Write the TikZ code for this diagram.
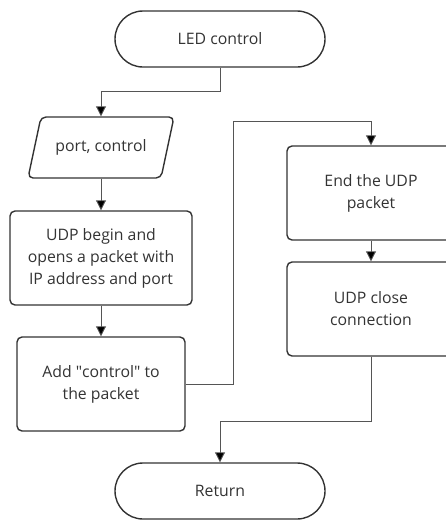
\documentclass[tikz,border=0pt]{standalone}
\usepackage{fontspec}
\setmainfont{Open Sans}
\usetikzlibrary{arrows.meta,calc}
\definecolor{ink}{HTML}{333333}
\definecolor{wire}{HTML}{555555}
\tikzset{
  box/.style={draw=ink, line width=1.4pt, rounded corners=5pt, align=center,
    text=ink, font=\fontsize{15.8}{22}\selectfont, inner sep=0pt},
  terminal/.style={box, rounded corners=28pt, minimum width=210pt, minimum height=56pt},
  flow/.style={draw=wire, line width=0.9pt, -{Triangle[length=10pt,width=10pt,fill=black]}},
}
\begin{document}
\begin{tikzpicture}[x=1pt,y=-1pt]
\useasboundingbox (0,0) rectangle (446,520);
\clip (0,0) rectangle (446,520);

% terminals
\node[terminal] (start) at (220,39) {LED control};
\node[terminal] (ret) at (220,491) {Return};

% input parallelogram
\draw[draw=ink, line width=1.4pt, rounded corners=5pt]
  (41,117) -- (174,117) -- (161,178) -- (28,178) -- cycle;
\node[box, draw=none, minimum width=120pt, minimum height=61pt] (pc) at (101,147.5) {port, control};

% process boxes
\node[box, minimum width=182pt, minimum height=94pt] (udp) at (101,258)
  {UDP begin and\\opens a packet with\\IP address and port};
\node[box, minimum width=168pt, minimum height=94pt] (add) at (101,384)
  {Add \textquotedbl control\textquotedbl{} to\\the packet};
\node[box, minimum width=168pt, minimum height=94pt] (endb) at (371,193)
  {End the UDP\\packet};
\node[box, minimum width=168pt, minimum height=94pt] (close) at (371,309)
  {UDP close\\connection};

% connectors
\draw[flow] (start.south) -- ++(0,24) -| (pc.north);
\draw[flow] (pc.south) -- (udp.north);
\draw[flow] (udp.south) -- (add.north);
\draw[flow] (add.east) -- ++(48,0) |- ($(endb.north)+(0,-24)$) -- (endb.north);
\draw[flow] (endb.south) -- (close.north);
\draw[flow] (close.south) -- ++(0,65) -| (ret.north);
\end{tikzpicture}
\end{document}
